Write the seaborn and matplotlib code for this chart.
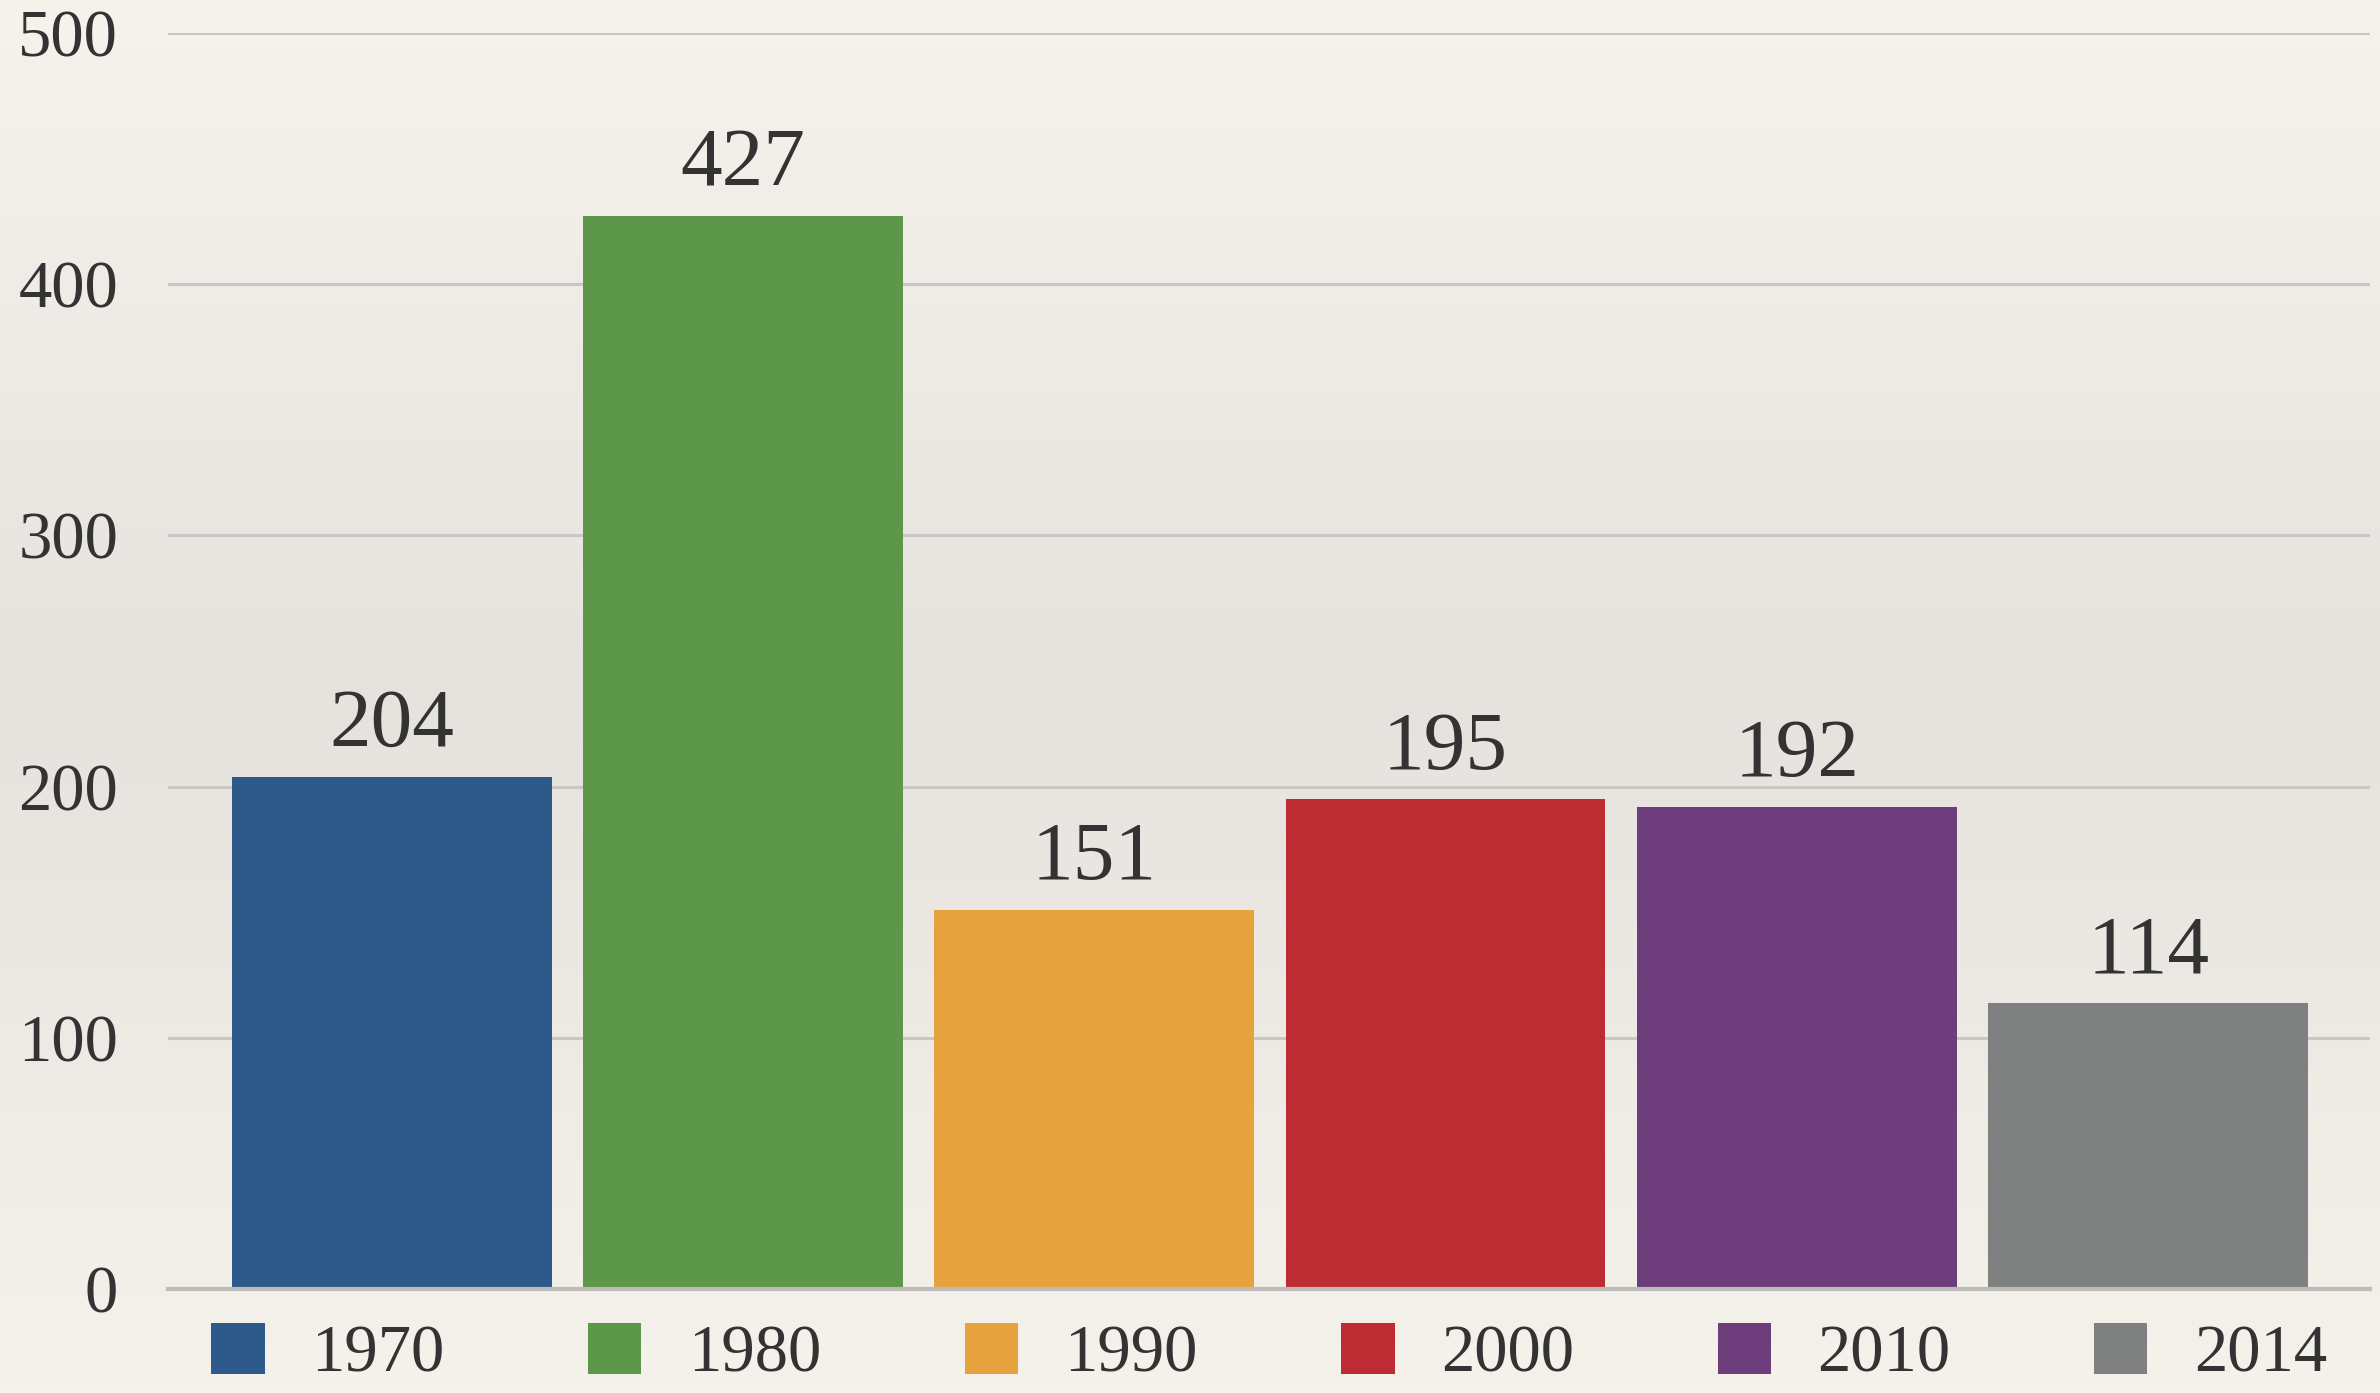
import numpy as np
import matplotlib
matplotlib.use("Agg")
import matplotlib.pyplot as plt
from matplotlib.colors import LinearSegmentedColormap
import seaborn as sns

years = ["1970", "1980", "1990", "2000", "2010", "2014"]
values = [204, 427, 151, 195, 192, 114]
colors = ["#2E5A8B", "#5C974A", "#E6A23D", "#BC2C32", "#6E3D7C", "#7F8080"]
yticks = [0, 100, 200, 300, 400, 500]

sns.set_style("white")
plt.rcParams["font.family"] = ["Liberation Serif", "DejaVu Serif"]
text_color = "#333333"

fig = plt.figure(figsize=(23.8, 13.93), dpi=100)

# paper-like background, a bit darker in the middle
bg = fig.add_axes([0, 0, 1, 1], zorder=-10)
cmap = LinearSegmentedColormap.from_list("paper", ["#F6F3ED", "#E6E3DE", "#F5F2EC"])
bg.imshow(np.linspace(0, 1, 256).reshape(-1, 1), aspect="auto", cmap=cmap,
          extent=[0, 1, 0, 1])
bg.axis("off")

ax = fig.add_axes([0.0706, 0.0746, 0.9254, 0.9017])
ax.patch.set_alpha(0)

sns.barplot(x=years, y=values, hue=years, palette=colors, width=0.91,
            saturation=1, linewidth=0, ax=ax, legend=True, zorder=3)

for c in ax.containers:
    ax.bar_label(c, padding=9, fontsize=60, color=text_color)

ax.set_ylim(0, 500)
ax.set_xlim(-0.637, 5.633)
ax.set_yticks(yticks)
ax.set_yticklabels([str(t) for t in yticks])
ax.tick_params(axis="y", length=0, pad=36, labelsize=48, labelcolor=text_color)
ax.set_xticks([])
ax.set_xlabel("")
ax.set_ylabel("")
ax.yaxis.grid(True, color="#C9C7C3", linewidth=2.2, zorder=0)
ax.set_axisbelow(True)
for s in ["top", "right", "left"]:
    ax.spines[s].set_visible(False)
ax.spines["bottom"].set_color("#BDBBB7")
ax.spines["bottom"].set_linewidth(3)
ax.spines["bottom"].set_zorder(4)

handles, labels = ax.get_legend_handles_labels()
ax.legend(handles, labels, loc="upper center", bbox_to_anchor=(0.5, -0.006),
          ncol=6, frameon=False, fontsize=48, labelcolor=text_color,
          handlelength=0.8, handleheight=0.8, handletextpad=0.7,
          columnspacing=2.15, borderaxespad=0)

fig.savefig("out.png", dpi=100)
